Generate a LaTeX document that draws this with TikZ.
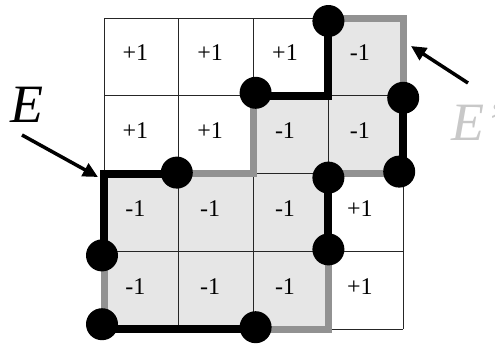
\documentclass[tikz,border=0pt]{standalone}
\usepackage{fontspec}
\setmainfont{LiberationSerif}[Extension=.ttf,UprightFont=*-Regular,ItalicFont=*-Italic,BoldFont=*-Bold]
\usetikzlibrary{arrows.meta}
\definecolor{cellfill}{HTML}{E6E6E6}
\definecolor{edgegray}{HTML}{929292}
\definecolor{labelgray}{HTML}{C8C8C8}
\begin{document}
\begin{tikzpicture}[x=1pt,y=-1pt,
  gridline/.style={line width=0.8pt,black!85},
  grayedge/.style={line width=7pt,edgegray,line join=miter},
  blackedge/.style={line width=8pt,black,line join=miter},
  dot/.style={circle,fill=black,minimum size=32pt,inner sep=0pt},
  celltext/.style={font=\fontsize{24}{24}\selectfont,inner sep=0pt},
  biglabel/.style={font=\fontsize{54}{54}\selectfont\itshape,inner sep=0pt,anchor=base west},
  pointer/.style={line width=3.5pt,-{Triangle[length=15pt,width=14pt]}}]
\useasboundingbox (0,0) rectangle (495,346);

% lattice points of the 4x4 board
\foreach \i in {0,...,4}
  \foreach \j in {0,...,4}
    \coordinate (p\i\j) at ({104+74.8*\i},{18+77.8*\j});

% shaded region of -1 cells
\fill[cellfill] (p02) -| (p21) -| (p30) -| (p42) -| (p34) -| (p02) -- cycle;

% thin board lines
\foreach \k in {0,...,4} {
  \draw[gridline] (p\k0) -- (p\k4);
  \draw[gridline] (p0\k) -- (p4\k);
}

% cell values
\foreach \i/\j/\t in {0/0/+1,1/0/+1,2/0/+1,3/0/-1,
                      0/1/+1,1/1/+1,2/1/-1,3/1/-1,
                      0/2/-1,1/2/-1,2/2/-1,3/2/+1,
                      0/3/-1,1/3/-1,2/3/-1,3/3/+1}
  \node[celltext] (c\i\j) at ({104+74.8*(\i+0.5)-6},{18+77.8*(\j+0.5)-4}) {\t};

% boundary pieces of E'
\draw[grayedge] (p12) -| (p21);
\draw[grayedge] (p30) -| (p41);
\draw[grayedge] (p42) -- (p32);
\draw[grayedge] (p33) |- (p24);
\draw[grayedge] (p03) -- (p04);

% boundary pieces of E
\draw[blackedge] (p12) -| (p03);
\draw[blackedge] (p04) -- (p24);
\draw[blackedge] (p32) -- (p33);
\draw[blackedge] (p21) -| (p30);
\draw[blackedge] (p41) -- (p42);

% endpoints
\foreach \c/\dx/\dy in {12/-2/-1,03/-2/4,04/-2/-5,24/2/-2,33/0/-2,
                        32/0/4,42/-4/-2,41/0/2,30/0/3,21/2/-3}
  \node[dot] (d\c) at ([xshift=\dx pt,yshift=-\dy pt]p\c) {};

% labels with pointers
\node[biglabel] (labE) at (10,122) {E};
\node[biglabel,text=labelgray] (labEp) at (451,140) {E'};
\coordinate (tailE) at (22,135);
\coordinate (tipE) at (98,177);
\coordinate (tailEp) at (468,83);
\coordinate (tipEp) at (411,46);
\draw[pointer] (tailE) -- (tipE);
\draw[pointer] (tailEp) -- (tipEp);
\end{tikzpicture}
\end{document}
